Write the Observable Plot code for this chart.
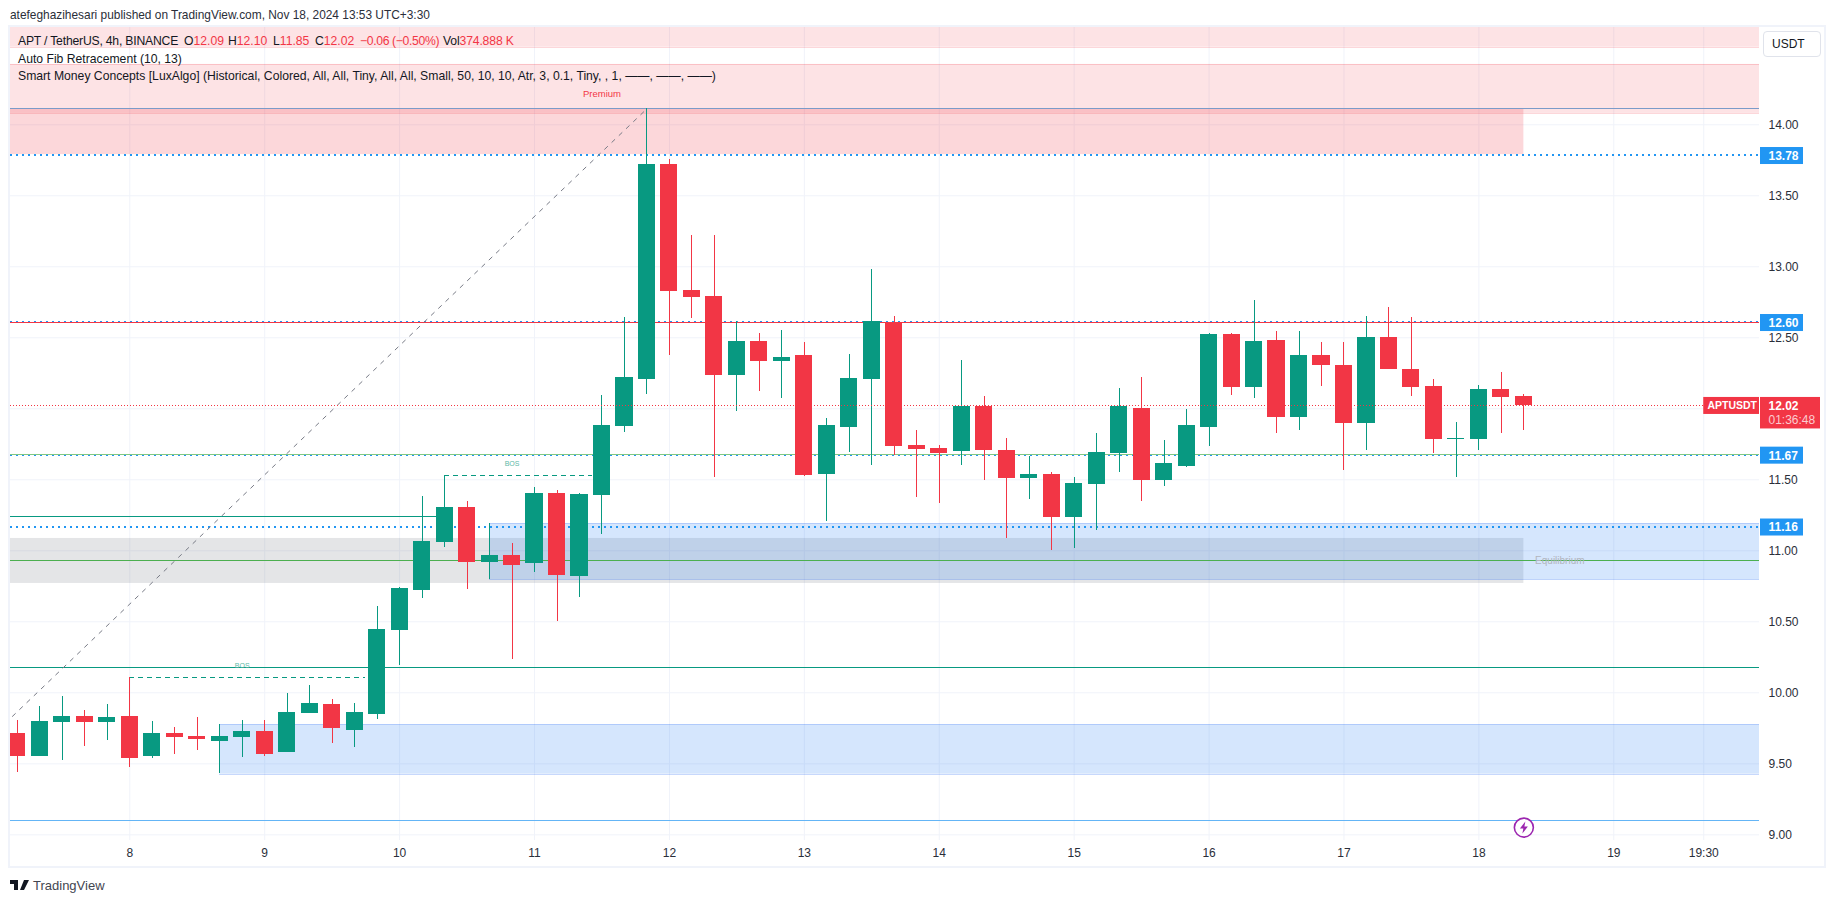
<!DOCTYPE html>
<html>
<head>
<meta charset="utf-8">
<script src="https://cdn.jsdelivr.net/npm/d3@7"></script>
<script src="https://cdn.jsdelivr.net/npm/@observablehq/plot@0.6"></script>
<style>
html,body{margin:0;padding:0;background:#fff;width:1835px;height:903px;overflow:hidden;font-family:"Liberation Sans",sans-serif;color:#131722}
#wrap{position:relative;width:1835px;height:903px}
#head{position:absolute;left:10px;top:6px;font-size:11.9px;line-height:18px;white-space:nowrap;color:#2a2e39}
#frame{position:absolute;left:8px;top:25px;width:1818px;height:843px;box-sizing:border-box;border:2px solid #f0f3fa;pointer-events:none}
#chart{position:absolute;left:0;top:27px}
#chart svg{overflow:visible;background:transparent;display:block}
.leg{position:absolute;left:18px;font-size:12.2px;line-height:16px;white-space:nowrap;color:#131722}
.leg b{font-weight:normal;color:#f23645}
#usdt{position:absolute;left:1763px;top:31px;width:58px;height:26px;box-sizing:border-box;border:1px solid #e0e3eb;border-radius:4px;font-size:12px;line-height:24px;padding-left:8px;background:#fff}
#foot{position:absolute;left:33px;top:876px;font-size:13px;line-height:20px;color:#434651}
#logo{position:absolute;left:10px;top:880px;width:19px;height:10px;background:#131722;clip-path:path('M0 0H8V10H4V4H0Z M11 0a2 2 0 1 1 .01 0Z M14 0H19L14 10H10Z')}
</style>
</head>
<body>
<div id="wrap">
<div id="head">atefeghazihesari published on TradingView.com, Nov 18, 2024 13:53 UTC+3:30</div>
<div id="chart"></div>
<div id="frame"></div>
<div class="leg" style="top:33px;letter-spacing:-.2px">APT / TetherUS, 4h, BINANCE</div>
<div class="leg" style="top:33px;left:184px">O<b>12.09</b></div>
<div class="leg" style="top:33px;left:228px">H<b>12.10</b></div>
<div class="leg" style="top:33px;left:273px">L<b>11.85</b></div>
<div class="leg" style="top:33px;left:315px">C<b>12.02</b></div>
<div class="leg" style="top:33px;left:360px;letter-spacing:-.35px"><b>−0.06 (−0.50%)</b></div>
<div class="leg" style="top:33px;left:443px;letter-spacing:-.15px">Vol<b>374.888 K</b></div>
<div class="leg" style="top:51px">Auto Fib Retracement (10, 13)</div>
<div class="leg" style="top:68px">Smart Money Concepts [LuxAlgo] (Historical, Colored, All, All, Tiny, All, All, Small, 50, 10, 10, Atr, 3, 0.1, Tiny, , 1, ——, ——, ——)</div>
<div id="usdt">USDT</div>
<div id="logo"></div>
<div id="foot">TradingView</div>
</div>
<script>
// candle values, one per 4h bar; bar index 0 is the "8" tick
const firstIndex = -5;
const open  = [9.716,9.549,9.793,9.836,9.793,9.836,9.549,9.716,9.695,9.660,9.688,9.730,9.582,9.857,9.920,9.737,9.850,10.441,10.723,11.061,11.308,10.920,10.970,10.913,11.406,10.822,11.390,11.875,12.207,13.720,12.833,12.791,12.235,12.474,12.333,12.376,11.538,11.869,12.207,12.608,11.742,11.720,11.700,12.016,11.707,11.509,11.538,11.235,11.467,11.685,12.002,11.495,11.594,11.869,12.523,12.150,12.481,11.939,12.376,12.305,11.897,12.502,12.277,12.157,11.784,11.784,12.136,12.090];
const high  = [9.808,9.906,9.977,9.878,9.920,10.108,9.800,9.758,9.829,9.777,9.808,9.808,9.998,10.054,9.955,9.927,10.610,10.744,11.385,11.530,11.350,11.195,11.054,11.448,11.427,11.406,12.094,12.643,14.113,13.756,13.221,13.221,12.615,12.531,12.552,12.467,11.932,12.383,12.981,12.650,11.847,11.742,12.340,12.087,11.791,11.664,11.552,11.516,11.826,12.143,12.221,11.777,11.995,12.531,12.531,12.763,12.545,12.545,12.467,12.467,12.650,12.714,12.643,12.207,11.904,12.164,12.256,12.100];
const low   = [9.437,9.549,9.521,9.624,9.667,9.476,9.540,9.568,9.596,9.430,9.542,9.554,9.582,9.857,9.646,9.617,9.814,10.195,10.667,11.026,10.730,10.796,10.237,10.850,10.505,10.674,11.115,11.833,12.100,12.376,12.636,11.516,11.981,12.122,12.073,11.523,11.207,11.693,11.600,11.671,11.376,11.333,11.600,11.495,11.087,11.362,11.002,11.016,11.143,11.552,11.347,11.453,11.587,11.735,12.094,12.073,11.826,11.847,12.157,11.566,11.707,12.277,12.087,11.685,11.516,11.707,11.826,11.850];
const close = [9.549,9.801,9.836,9.793,9.829,9.540,9.716,9.688,9.674,9.695,9.730,9.568,9.864,9.927,9.751,9.864,10.448,10.737,11.068,11.308,10.920,10.970,10.899,11.406,10.829,11.399,11.883,12.221,13.720,12.826,12.784,12.235,12.474,12.333,12.362,11.530,11.883,12.214,12.615,11.735,11.714,11.685,12.016,11.707,11.509,11.538,11.235,11.474,11.692,12.016,11.495,11.615,11.883,12.523,12.150,12.474,11.939,12.376,12.305,11.897,12.502,12.277,12.150,11.784,11.789,12.136,12.080,12.020];

// axes
const priceTicks = [9,9.5,10,10.5,11,11.5,12,12.5,13,13.5,14];
const timeTicks  = [0,6,12,18,24,30,36,42,48,54,60,66,70];
const timeLabels = ["8","9","10","11","12","13","14","15","16","17","18","19","19:30"];

// Smart Money zones
const premiumZones = [[14.7,14.546],[14.425,14.08]];
const supplyBox    = [14.113,13.79];
const grayBox      = [11.087,10.77];
const blueZones    = [[16,11.19,10.796],[4,9.775,9.427]];

// levels
const dottedThick = [13.78,11.164];
const dottedThin  = [12.604,11.67];
const boxEndIndex = 62;
const lastPrice   = 12.02;

const xMin = -5.306, xMax = 72.48;
const candles = open.map((o,k)=>({i:firstIndex+k,o,h:high[k],l:low[k],c:close[k]}));
const GREEN="#089981", RED="#f23645", BLUE="#2196f3", FONT='"Liberation Sans",sans-serif';
const crisp = {shapeRendering:"crispEdges"};

const tag = (vals,fill,w,top,bottom) => Plot.rect(vals,{x1:()=>xMax,x2:()=>xMax,y1:d=>d,y2:d=>d,fill,insetLeft:1,insetRight:-w,insetTop:-top,insetBottom:-bottom});
const full = {x1:()=>xMin,x2:()=>xMax};
const bolt = {draw(c){c.moveTo(1.5,-6);c.lineTo(-4,1);c.lineTo(-.5,1);c.lineTo(-1.5,6);c.lineTo(4,-1);c.lineTo(.5,-1);c.closePath();}};

const chart = Plot.plot({
  width:1835,height:840,marginLeft:10,marginRight:76,marginTop:0,marginBottom:27,
  style:{fontFamily:FONT,fontSize:"12px",background:"transparent"},
  x:{type:"linear",domain:[xMin,xMax]},
  y:{type:"linear",domain:[8.96,14.685]},
  marks:[
    Plot.gridX(timeTicks,{stroke:"#f0f3fa",strokeOpacity:1,strokeWidth:1}),
    Plot.gridY(priceTicks,{stroke:"#f0f3fa",strokeOpacity:1,strokeWidth:1}),
    // zones
    Plot.rect(premiumZones,{...full,y1:d=>d[0],y2:d=>d[1],fill:"rgba(242,54,69,.14)",clip:true}),
    Plot.ruleY(premiumZones.flat().slice(1),{...full,stroke:"rgba(242,54,69,.2)",...crisp}),
    Plot.rect([supplyBox],{x1:()=>xMin,x2:()=>boxEndIndex,y1:d=>d[0],y2:d=>d[1],fill:"rgba(242,54,69,.2)",clip:true}),
    Plot.rect([grayBox],{x1:()=>xMin,x2:()=>boxEndIndex,y1:d=>d[0],y2:d=>d[1],fill:"rgba(120,123,134,.2)",clip:true}),
    Plot.rect(blueZones,{x1:d=>d[0],x2:()=>xMax,y1:d=>d[1],y2:d=>d[2],fill:"rgba(33,120,243,.19)",clip:true}),
    Plot.ruleY(blueZones.flatMap(d=>[{x:d[0],y:d[1]},{x:d[0],y:d[2]}]),{x1:"x",x2:()=>xMax,y:"y",stroke:"rgba(33,100,243,.25)",...crisp}),
    // solid levels
    Plot.ruleY([14.113],{...full,stroke:"#7b9bc9",strokeWidth:1,...crisp}),
    Plot.ruleY([12.60],{...full,stroke:RED,strokeWidth:1,dy:-1,...crisp}),
    Plot.ruleY([11.67],{...full,stroke:"#81c784",strokeWidth:1,dy:-1,...crisp}),
    Plot.ruleY([11.239],{x1:()=>xMin,x2:()=>14,stroke:GREEN,strokeWidth:1,...crisp}),
    Plot.ruleY([10.93],{...full,stroke:"#4caf50",strokeWidth:1,...crisp}),
    Plot.ruleY([10.176],{...full,stroke:GREEN,strokeWidth:1,...crisp}),
    Plot.ruleY([9.103],{...full,stroke:"#64b5f6",strokeWidth:1,...crisp}),
    // dotted levels
    Plot.ruleY(dottedThick,{...full,stroke:BLUE,strokeWidth:2,strokeDasharray:"2 4",dy:-1,...crisp}),
    Plot.ruleY([dottedThin[0]],{...full,stroke:BLUE,strokeWidth:1,strokeDasharray:"2 4",dy:-2,...crisp}),
    Plot.ruleY([dottedThin[1]],{...full,stroke:BLUE,strokeWidth:1,strokeDasharray:"2 4",...crisp}),
    // fib diagonal
    Plot.line([[-5.22,9.834],[23,14.113]],{x:d=>d[0],y:d=>d[1],stroke:"#787b86",strokeWidth:1,strokeDasharray:"4 6",clip:true}),
    // BOS
    Plot.ruleY([10.105],{x1:()=>0,x2:()=>10.5,stroke:GREEN,strokeWidth:1,strokeDasharray:"5 4",...crisp}),
    Plot.ruleY([11.53],{x1:()=>14,x2:()=>20.6,stroke:GREEN,strokeWidth:1,strokeDasharray:"5 4",...crisp}),
    Plot.text([[5,10.19],[17,11.615]],{x:d=>d[0],y:d=>d[1],text:()=>"BOS",fill:"#5db7a6",fontSize:7}),
    Plot.text([[21,14.22]],{x:d=>d[0],y:d=>d[1],text:()=>"Premium",fill:RED,fontSize:9.5}),
    Plot.text([[63.6,10.93]],{x:d=>d[0],y:d=>d[1],text:()=>"Equilibrium",fill:"#b2b5be",fontSize:10}),
    // candles
    Plot.ruleX(candles,{x:"i",y1:"l",y2:"h",stroke:d=>d.c>=d.o?GREEN:RED,strokeWidth:1,...crisp,clip:true}),
    Plot.rect(candles,{x1:d=>d.i-.38,x2:d=>d.i+.38,y1:"o",y2:"c",fill:d=>d.c>=d.o?GREEN:RED,...crisp,clip:true}),
    // last price line
    Plot.ruleY([lastPrice],{x1:()=>xMin,x2:()=>70,stroke:RED,strokeWidth:1,strokeDasharray:"1 2",...crisp}),
    // event marker
    Plot.dot([[62,9.051]],{x:d=>d[0],y:d=>d[1],r:9.5,stroke:"#9c27b0",strokeWidth:1.6,fill:"#fff"}),
    Plot.dot([[62,9.051]],{x:d=>d[0],y:d=>d[1],symbol:bolt,fill:"#9c27b0",stroke:"none"}),
    // axes
    Plot.axisY(priceTicks,{anchor:"right",tickSize:0,tickPadding:9,tickFormat:d=>d.toFixed(2),label:null,fill:"#2a2e39",fontSize:12}),
    Plot.axisX(timeTicks,{anchor:"bottom",tickSize:0,tickPadding:8,tickFormat:(d)=>timeLabels[timeTicks.indexOf(d)],label:null,fill:"#2a2e39",fontSize:12}),
    // price tags
    tag(dottedThick.concat(dottedThin),BLUE,44,8.5,8.5),
    Plot.text(dottedThick.concat(dottedThin),{x:()=>xMax,y:d=>d,text:d=>d.toFixed(2),dx:9,textAnchor:"start",fill:"#fff",fontSize:12,fontWeight:"bold"}),
    tag([lastPrice],RED,61,8.5,23),
    Plot.rect([lastPrice],{x1:()=>70,x2:()=>xMax,y1:d=>d,y2:d=>d,fill:RED,insetTop:-8.5,insetBottom:-8.5}),
    Plot.text([lastPrice],{x:()=>70,y:d=>d,text:()=>"APTUSDT",dx:28.5,fill:"#fff",fontSize:10.5,fontWeight:"bold"}),
    Plot.text([lastPrice],{x:()=>xMax,y:d=>d,text:d=>d.toFixed(2),dx:9,textAnchor:"start",fill:"#fff",fontSize:12,fontWeight:"bold"}),
    Plot.text([lastPrice],{x:()=>xMax,y:d=>d,text:()=>"01:36:48",dx:9,dy:14,textAnchor:"start",fill:"rgba(255,255,255,.75)",fontSize:12})
  ]
});
document.getElementById("chart").appendChild(chart);
</script>
</body>
</html>
